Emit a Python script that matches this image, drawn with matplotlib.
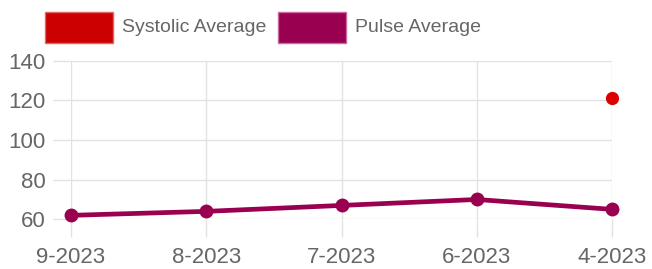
import matplotlib
matplotlib.use('Agg')
import matplotlib.pyplot as plt
from matplotlib.patches import Rectangle

months = ['9-2023', '8-2023', '7-2023', '6-2023', '4-2023']
systolic_avg = [None, None, None, None, 121]
pulse_avg = [62, 64, 67, 70, 65]
y_ticks = [60, 80, 100, 120, 140]

W, H = 652, 269
plt.rcParams['font.family'] = ['Liberation Sans', 'DejaVu Sans']

fig = plt.figure(figsize=(W / 100, H / 100), dpi=100)
# plot area in pixels: x 71..612, y 60.7..219.3
ax = fig.add_axes([71 / W, 1 - 219.3 / H, (612 - 71) / W, (219.3 - 60.7) / H])

x = list(range(len(months)))
grid_col = '#e2e2e2'
text_col = '#666666'

# systolic: only the points that exist
sx = [i for i, v in zip(x, systolic_avg) if v is not None]
sy = [v for v in systolic_avg if v is not None]
ax.plot(sx, sy, 'o', color='#dd0000', markersize=8.5, clip_on=False, zorder=4)

ax.plot(x, pulse_avg, '-o', color='#990050', linewidth=3.4, markersize=9,
        clip_on=False, zorder=3)

ax.set_xlim(0, len(months) - 1)
ax.set_ylim(60, 140)
ax.set_xticks(x)
ax.set_xticklabels(months)
ax.set_yticks(y_ticks)
ax.grid(True, color=grid_col, linewidth=1)
for s in ax.spines.values():
    s.set_visible(False)
ax.tick_params(axis='both', length=13, width=1, color=grid_col,
               labelcolor=text_col, labelsize=16)
ax.tick_params(axis='y', pad=5)
ax.tick_params(axis='x', pad=7)

# legend drawn by hand
def px_rect(x0, y0, w, h, fc, ec):
    fig.add_artist(Rectangle((x0 / W, 1 - (y0 + h) / H), w / W, h / H,
                             transform=fig.transFigure, facecolor=fc,
                             edgecolor=ec, linewidth=1))

px_rect(45, 12, 68, 31, '#cc0000', '#e06666')
fig.text(122 / W, 1 - 27.5 / H, 'Systolic Average', color=text_col,
         fontsize=14, va='center', ha='left')
px_rect(278, 12, 68, 31, '#990050', '#cc66a0')
fig.text(355 / W, 1 - 27.5 / H, 'Pulse Average', color=text_col,
         fontsize=14, va='center', ha='left')

fig.savefig('out.png', dpi=100)
